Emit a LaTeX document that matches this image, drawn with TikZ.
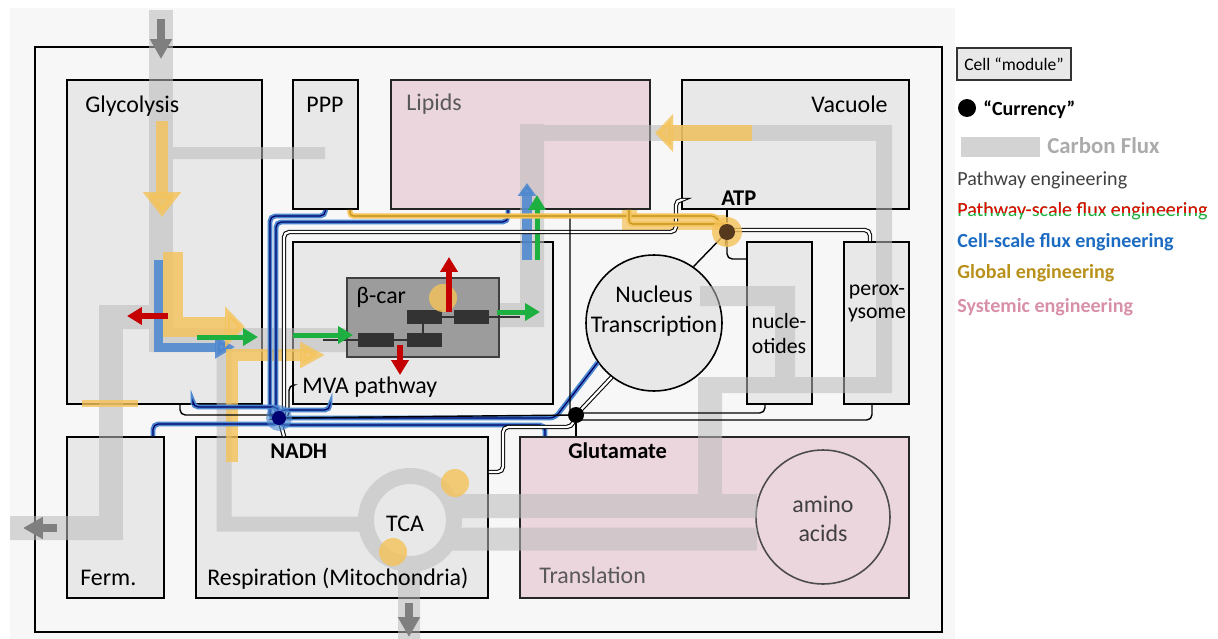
\documentclass[tikz,border=0pt]{standalone}
\usepackage{fontspec}
\setmainfont{Carlito}
\usetikzlibrary{arrows.meta, positioning, fit, calc}
\definecolor{modfill}{HTML}{E8E8E8}
\definecolor{pinkfill}{HTML}{ECD6DD}
\definecolor{fluxgrey}{HTML}{BCBCBC}
\definecolor{gold}{HTML}{F5C35A}
\definecolor{golddark}{HTML}{B8901A}
\definecolor{cellblue}{HTML}{4A86CF}
\definecolor{legblue}{HTML}{1C6BC2}
\definecolor{pathgreen}{HTML}{1DAF3F}
\definecolor{pathred}{HTML}{C40000}
\definecolor{syspink}{HTML}{D88FA8}
\definecolor{darkgrey}{HTML}{7F7F7F}
\definecolor{bcarfill}{HTML}{9C9C9C}
\definecolor{enzyme}{HTML}{333333}
\newcommand{\modfont}{\fontsize{13.6}{16}\selectfont}
\newcommand{\smallmod}{\fontsize{12.4}{14}\selectfont}
\newcommand{\hubfont}{\fontsize{12.8}{15}\selectfont\bfseries}
\newcommand{\legfont}{\fontsize{11.4}{14}\selectfont}

\begin{document}
\begin{tikzpicture}[
  x=0.02cm, y=-0.02cm,
  font=\modfont,
  module/.style={draw=black, line width=0.9pt, fill=modfill, inner sep=0pt},
  pinkmod/.style={module, fill=pinkfill, draw=black!85},
  lbl/.style={anchor=base west, inner sep=0pt, font=\modfont},
  lblc/.style={anchor=base, inner sep=0pt, font=\modfont},
  hublbl/.style={anchor=base west, inner sep=0pt, font=\hubfont},
  leg/.style={anchor=base west, inner sep=0pt, font=\legfont},
  flux/.style={draw=fluxgrey},
  fluxtip/.style={-{Triangle[length=0.4cm, width=0.42cm]}, draw=darkgrey, line width=0.15cm},
  yarr/.style={draw=gold, opacity=0.8},
  barr/.style={draw=cellblue, opacity=0.85},
  garr/.style={draw=pathgreen, line width=0.1cm, -{Triangle[length=0.3cm, width=0.34cm]}},
  rarr/.style={draw=pathred, line width=0.11cm, -{Triangle[length=0.3cm, width=0.34cm]}},
  kwire/.style={draw=black, line width=0.8pt, rounded corners=3pt},
  kdouble/.style={draw=black, line width=0.6pt, double=white, double distance=1.3pt, rounded corners=3pt},
  bwire/.style={preaction={draw=cellblue, line width=2.8pt}, draw=black!60!blue, line width=0.7pt, rounded corners=3pt},
  ywire/.style={preaction={draw=gold, line width=3pt}, draw=golddark, line width=0.6pt, rounded corners=2pt},
]
\useasboundingbox (0,0) rectangle (1218,639);
\fill[black!3] (10,8) rectangle (955,639);

% --- Cell ---
\draw[line width=1.1pt] (35,47) rectangle (942,632);

% --- Modules ---
\node[module, fit={(67,80)(262,404)}]   (glyco) {};
\node[module, fit={(293,80)(358,209)}]  (ppp) {};
\node[pinkmod, fit={(391,80)(650,209)}] (lipids) {};
\node[module, fit={(682,80)(909,209)}]  (vac) {};
\node[module, fit={(293,242)(553,404)}] (mva) {};
\node[module, fit={(747,242)(812,404)}] (nucl) {};
\node[module, fit={(844,242)(909,404)}] (perox) {};
\node[module, fit={(67,437)(164,598)}]  (ferm) {};
\node[module, fit={(196,437)(488,598)}] (resp) {};
\node[pinkmod, fit={(520,437)(909,598)}] (transl) {};
\node[module, circle, minimum size=2.72cm] (nucleus) at (654,323) {};
\node[pinkmod, circle, draw=black!70, minimum size=2.68cm] (amino) at (823,517) {};

% --- Carbon flux ---
\begin{scope}[transparency group, opacity=0.56]
  \draw[flux, line width=0.48cm] (161,10) |- (420,340);
  \draw[flux, line width=0.24cm] (161,153) -- (325,153);
  \draw[flux, line width=0.48cm] (161,317) -| (111,528) -- (10,528);
  \draw[flux, line width=0.3cm] (224,340) |- (365,524);
  \draw[flux, line width=0.32cm] (410,520) circle[radius=44];
  \draw[flux, line width=0.48cm] (450,506) -- (757,506);
  \draw[flux, line width=0.46cm] (450,539) -- (757,539);
  \draw[flux, line width=0.44cm] (409,562) -- (409,639);
  \draw[flux, line width=0.48cm] (420,352) -- (420,315) -| (532,124);
  \draw[flux, line width=0.32cm] (524,133) -| (884,385) -- (698,385);
  \draw[flux, line width=0.48cm] (710,377) -- (710,506);
  \draw[flux, line width=0.4cm] (700,296) -| (785,385);
\end{scope}
\draw[fluxtip] (161,19) -- (161,59);
\draw[fluxtip] (57,528) -- (23,528);
\draw[fluxtip] (409,603) -- (409,637);

% --- beta-carotene pathway ---
\node[draw=black!75, line width=0.9pt, fill=bcarfill, inner sep=0pt, fit={(347,278)(499,357)}] (bcar) {};
\draw[enzyme, line width=1.3pt] (323,340) -- (407,340) (423,333) -- (423,324) (442,317) -- (520,317);
\fill[enzyme] (358,333) rectangle (394,347);
\fill[enzyme] (407,333) rectangle (442,347);
\fill[enzyme] (407,310) rectangle (442,324);
\fill[enzyme] (454,310) rectangle (489,324);

% --- Global / cell-scale flux arrows ---
\draw[barr, line width=0.18cm, -{Triangle[length=0.4cm, width=0.44cm]}] (158,260) |- (235,347);
\draw[yarr, line width=0.24cm, -{Triangle[length=0.5cm, width=0.74cm]}] (162,121) -- (162,217);
\draw[yarr, line width=0.4cm, -{Triangle[length=0.4cm, width=0.8cm]}] (173,252) |- (245,327);
\draw[yarr, line width=0.24cm, -{Triangle[length=0.5cm, width=0.5cm]}] (232,462) |- (325,355);
\draw[yarr, line width=0.34cm, -{Triangle[length=0.36cm, width=0.74cm]}] (752,133) -- (655,133);
\draw[yarr, line width=0.14cm] (82,403) -- (138,403);
\fill[gold, opacity=0.8] (443,298) circle[radius=14];
\fill[gold, opacity=0.8] (455,483) circle[radius=14];
\fill[gold, opacity=0.8] (393,552) circle[radius=14];
\draw[barr, line width=0.2cm, -{Triangle[length=0.26cm, width=0.36cm]}] (527,260) -- (527,183);

% --- Pathway-scale flux arrows ---
\draw[garr] (197,337) -- (258,337);
\draw[garr] (293,335) -- (353,335);
\draw[garr] (497,312) -- (540,312);
\draw[garr] (537,260) -- (537,195);
\draw[rarr] (168,316) -- (127,316);
\draw[rarr] (449,312) -- (449,257);
\draw[rarr] (400,345) -- (400,375);

% --- Currencies ---
\coordinate (nadh) at (279,418);
\coordinate (glu)  at (576,415);
\coordinate (atp)  at (727,232);

\draw[gold, opacity=0.7, line width=0.3cm] (629,0 |- lipids.south) |- (atp |- 0,222);
\draw[bwire] (nadh) -| (270,216) -| (ppp.south);
\draw[bwire] (nadh) -| (276,222) -| (508,0 |- lipids.south);
\draw[kdouble] (nadh) -| (284,232) -- (676,232) |- (vac.west |- 0,200);
\draw[kwire] (nadh) -| (289,385) -- (mva.west |- 0,385);
\draw[bwire] (nadh) -- ++(0,-11) -| (193,0 |- glyco.south);
\draw[kwire] (nadh) -- ++(0,-3) -| (180,0 |- glyco.south);
\draw[bwire] (nadh) -- ++(0,6) -| (153,0 |- ferm.north);
\draw[bwire] (nadh) -- ++(0,-8) -| (330,0 |- mva.south);
\draw[kdouble] (nadh) -- (284,0 |- resp.north);
\draw[bwire] (nadh) -- (555,418) -- (nucleus.215);
\draw[bwire] (nadh) -- ++(0,7) -| (545,0 |- transl.north);
\draw[kwire] (nadh) -- (glu);

\draw[kwire] (glu) -| (570,0 |- lipids.south);
\draw[kdouble] (glu) -- (nucleus.232);
\draw[kwire] (glu) -- (glu |- transl.north);
\draw[kwire] (glu) -- ++(0,-2) -| (765,0 |- nucl.south);
\draw[kwire] (glu) -- ++(0,5) -| (872,0 |- perox.south);
\draw[kdouble] (glu) -- ++(-4,12) -| (503,472) -- (resp.east |- 0,472);

\draw[kwire] (atp) -- (atp |- vac.south);
\draw[kwire] (atp) -- (nucleus.55);
\draw[kwire] (atp) |- (nucl.west |- 0,259);
\draw[kdouble] (atp) -- ++(0,-2) -| (870,0 |- perox.north);
\draw[ywire] (atp) -- ++(-12,-16) -| (350,0 |- ppp.south);
\draw[ywire] (629,0 |- lipids.south) |- (atp |- 0,224) -- (atp);

\fill[cellblue, opacity=0.6] (nadh) circle[radius=13];
\fill[black!55!blue] (nadh) circle[radius=7];
\fill (glu) circle[radius=8];
\fill[gold, opacity=0.8] (atp) circle[radius=15];
\fill[black!55!brown] (atp) circle[radius=8];

% --- Labels ---
\node[lbl] at (85,112) {Glycolysis};
\node[lblc] at (325,112) {PPP};
\node[lbl, text=black!65] at (406,110) {Lipids};
\node[anchor=base east, inner sep=0pt] at (888,112) {Vacuole};
\node[lbl] at (356,303) {β-car};
\node[lbl] at (302,393) {MVA pathway};
\node[lblc] at (654,302) {Nucleus};
\node[lblc] at (654,332) {Transcription};
\node[lblc, font=\smallmod] at (779,328) {nucle-};
\node[lblc, font=\smallmod] at (779,353) {otides};
\node[lblc, font=\smallmod] at (877,295) {perox-};
\node[lblc, font=\smallmod] at (877,318) {ysome};
\node[lbl] at (80,585) {Ferm.};
\node[lbl] at (207,585) {Respiration (Mitochondria)};
\node[lblc] at (405,531) {TCA};
\node[lbl, text=black!65] at (539,583) {Translation};
\node[lblc, text=black!75] at (823,512) {amino};
\node[lblc, text=black!75] at (823,541) {acids};
\node[hublbl] at (721,205) {ATP};
\node[hublbl] at (270,458) {NADH};
\node[hublbl] at (568,458) {Glutamate};

% --- Legend ---
\node[draw=black!80, line width=0.9pt, fill=modfill, minimum width=2.28cm, minimum height=0.64cm,
      inner sep=0pt, font=\fontsize{10}{12}\selectfont] (legmod) at (1014,64) {Cell “module”};
\node[circle, fill=black, minimum size=0.36cm, inner sep=0pt] (legcur) at (967,108) {};
\node[leg, font=\legfont\bfseries] at (983,115) {“Currency”};
\fill[fluxgrey!65] (961,137) rectangle (1040,157);
\node[leg, font=\fontsize{13}{15}\selectfont\bfseries, text=black!33] at (1047,153) {Carbon Flux};
\node[leg, text=black!75] at (957,185) {Pathway engineering};
\node[leg, text=pathgreen] at (957,216) {Pathway-scale flux engineering};
\begin{scope}
  \clip (950,195) rectangle (1218,212);
  \node[leg, text=red!95!black] at (957,216) {Pathway-scale flux engineering};
\end{scope}
\node[leg, font=\legfont\bfseries, text=legblue] at (957,247) {Cell-scale flux engineering};
\node[leg, font=\legfont\bfseries, text=golddark] at (957,278) {Global engineering};
\node[leg, font=\legfont\bfseries, text=syspink] at (957,312) {Systemic engineering};
\end{tikzpicture}
\end{document}
